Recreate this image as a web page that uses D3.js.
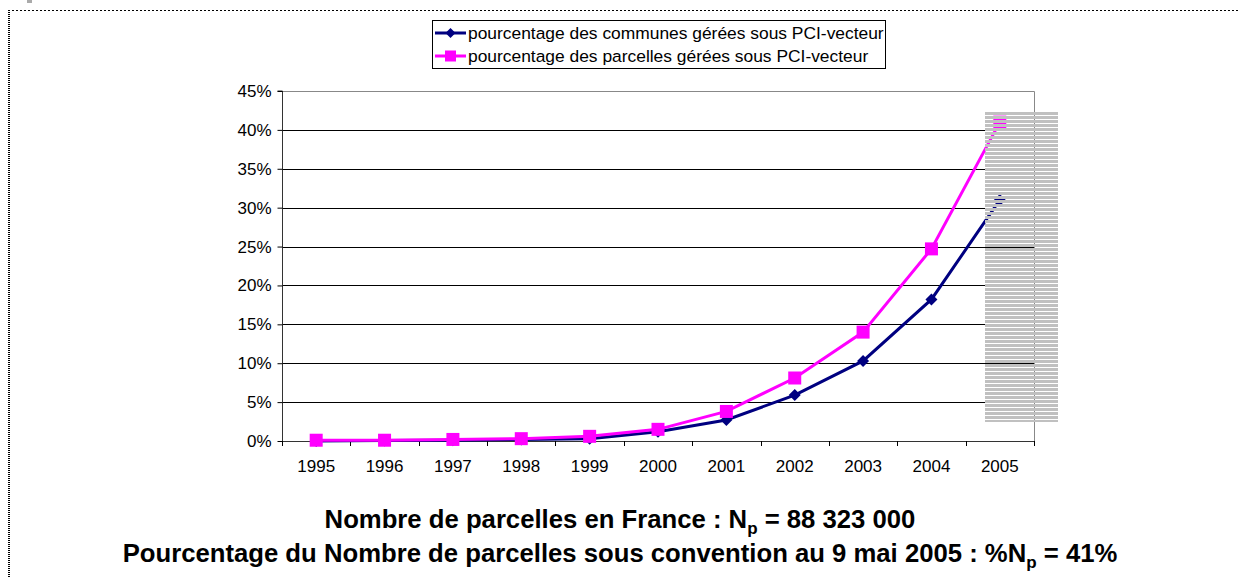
<!DOCTYPE html>
<html>
<head>
<meta charset="utf-8">
<script src="https://cdn.jsdelivr.net/npm/d3@7"></script>
<style>
  body { margin: 0; background: #fff; }
  text { font-family: "Liberation Sans", Arial, sans-serif; }
</style>
</head>
<body>
<div id="chart"></div>
<script>
var svgWidth = 1238;
var svgHeight = 577;

// data
var years = ["1995", "1996", "1997", "1998", "1999", "2000", "2001", "2002", "2003", "2004", "2005"];
var communes = [0.0, 0.0005, 0.001, 0.002, 0.003, 0.012, 0.027, 0.059, 0.103, 0.182, 0.31];
var parcelles = [0.001, 0.001, 0.002, 0.003, 0.006, 0.015, 0.038, 0.081, 0.14, 0.247, 0.41];
var yTicks = [0, 0.05, 0.10, 0.15, 0.20, 0.25, 0.30, 0.35, 0.40, 0.45];
var seriesNames = ["pourcentage des communes gérées sous PCI-vecteur",
                   "pourcentage des parcelles gérées sous PCI-vecteur"];

var plot = { left: 282, right: 1034, top: 91, bottom: 441 };

var svg = d3.select("#chart").append("svg")
  .attr("width", svgWidth)
  .attr("height", svgHeight);

// dotted frame (top + left)
svg.append("line")
  .attr("x1", 8).attr("x2", svgWidth).attr("y1", 10.5).attr("y2", 10.5)
  .attr("stroke", "#000").attr("stroke-width", 1).attr("stroke-dasharray", "2,2");
svg.append("line")
  .attr("x1", 9).attr("x2", 9).attr("y1", 10).attr("y2", svgHeight)
  .attr("stroke", "#000").attr("stroke-width", 2).attr("stroke-dasharray", "1,1");
svg.append("rect")
  .attr("x", 27).attr("y", 0).attr("width", 5).attr("height", 3).attr("fill", "#aaa");

var x = d3.scaleBand().domain(years).range([plot.left, plot.right]);
var y = d3.scaleLinear().domain([0, 0.45]).range([plot.bottom, plot.top]);
var cx = function(i) { return x(years[i]) + x.bandwidth() / 2; };

// gridlines
svg.append("g").selectAll("line")
  .data(yTicks.slice(1, -1))
  .enter().append("line")
  .attr("x1", plot.left).attr("x2", plot.right)
  .attr("y1", d => Math.round(y(d)) + 0.5).attr("y2", d => Math.round(y(d)) + 0.5)
  .attr("stroke", "#000");

// plot border top/right
svg.append("path")
  .attr("d", `M${plot.left},${plot.top + 0.5}H${plot.right + 0.5}V${plot.bottom}`)
  .attr("fill", "none").attr("stroke", "#888");

// y axis
var yAxis = d3.axisLeft(y).tickValues(yTicks).tickFormat(d3.format(".0%")).tickSize(5).tickPadding(6);
var gy = svg.append("g").attr("transform", `translate(${plot.left + 0.5},0)`).call(yAxis);
gy.select(".domain").attr("stroke", "#333").attr("d", `M-5,${y(0.45)}H0V${y(0)}`);
gy.selectAll(".tick line").attr("stroke", "#000");
gy.selectAll("text").attr("font-size", 17).attr("fill", "#000")
  .style("font-family", "Liberation Sans, Arial, sans-serif");

// x axis
var xAxis = d3.axisBottom(x).tickSize(0).tickPadding(18);
var gx = svg.append("g").attr("transform", `translate(0,${plot.bottom + 0.5})`).call(xAxis);
gx.select(".domain").attr("stroke", "#333").attr("d", `M${plot.left},0H${plot.right}`);
gx.selectAll("text").attr("font-size", 17).attr("fill", "#000")
  .style("font-family", "Liberation Sans, Arial, sans-serif");
svg.append("g").selectAll("line")
  .data(years.concat(["end"]))
  .enter().append("line")
  .attr("x1", (d, i) => Math.round(plot.left + i * x.bandwidth()) + 0.5)
  .attr("x2", (d, i) => Math.round(plot.left + i * x.bandwidth()) + 0.5)
  .attr("y1", plot.bottom).attr("y2", plot.bottom + 5)
  .attr("stroke", "#000");

// lines
var line = d3.line().x((d, i) => cx(i)).y(d => y(d));

svg.append("path").datum(communes)
  .attr("d", line).attr("fill", "none")
  .attr("stroke", "#000080").attr("stroke-width", 3);
svg.append("g").selectAll("path")
  .data(communes).enter().append("path")
  .attr("transform", (d, i) => `translate(${cx(i)},${y(d)})`)
  .attr("d", "M0,-6L6,0L0,6L-6,0Z")
  .attr("fill", "#000080");

svg.append("path").datum(parcelles)
  .attr("d", line).attr("fill", "none")
  .attr("stroke", "#ff00ff").attr("stroke-width", 3);
svg.append("g").selectAll("rect")
  .data(parcelles).enter().append("rect")
  .attr("x", (d, i) => cx(i) - 6.5).attr("y", d => y(d) - 6.5)
  .attr("width", 13).attr("height", 13)
  .attr("fill", "#ff00ff");

// striped box over 2005
var defs = svg.append("defs");
var pat = defs.append("pattern")
  .attr("id", "stripes").attr("patternUnits", "userSpaceOnUse")
  .attr("width", 8).attr("height", 4);
pat.append("rect").attr("x", 0).attr("y", 0).attr("width", 8).attr("height", 3).attr("fill", "#c0c0c0");
svg.append("rect")
  .attr("x", 985).attr("y", 111).attr("width", 73).attr("height", 311)
  .attr("fill", "url(#stripes)");

// legend
var legend = svg.append("g").attr("transform", "translate(432,20)");
legend.append("rect")
  .attr("x", 0.5).attr("y", 0.5).attr("width", 453).attr("height", 48)
  .attr("fill", "#fff").attr("stroke", "#000");
var legColors = ["#000080", "#ff00ff"];
seriesNames.forEach(function(name, i) {
  var ly = 13 + i * 23;
  legend.append("line")
    .attr("x1", 3).attr("x2", 34).attr("y1", ly).attr("y2", ly)
    .attr("stroke", legColors[i]).attr("stroke-width", 3);
  if (i === 0) {
    legend.append("path").attr("transform", `translate(18.5,${ly})`)
      .attr("d", "M0,-5L5,0L0,5L-5,0Z").attr("fill", legColors[i]);
  } else {
    legend.append("rect").attr("x", 13).attr("y", ly - 5.5)
      .attr("width", 11).attr("height", 11).attr("fill", legColors[i]);
  }
  legend.append("text")
    .attr("x", 36).attr("y", ly + 6)
    .attr("font-size", 17.4).attr("fill", "#000")
    .text(name);
});

// captions
var cap1 = svg.append("text")
  .attr("x", 620).attr("y", 528).attr("text-anchor", "middle")
  .attr("font-size", 25.7).attr("font-weight", "bold");
cap1.append("tspan").text("Nombre de parcelles en France : N");
cap1.append("tspan").attr("dy", 6).attr("font-size", 17).text("p");
cap1.append("tspan").attr("dy", -6).text(" = 88 323 000");

var cap2 = svg.append("text")
  .attr("x", 620).attr("y", 562).attr("text-anchor", "middle")
  .attr("font-size", 25.7).attr("font-weight", "bold");
cap2.append("tspan").text("Pourcentage du Nombre de parcelles sous convention au 9 mai 2005 : %N");
cap2.append("tspan").attr("dy", 6).attr("font-size", 17).text("p");
cap2.append("tspan").attr("dy", -6).text(" = 41%");
</script>
</body>
</html>
